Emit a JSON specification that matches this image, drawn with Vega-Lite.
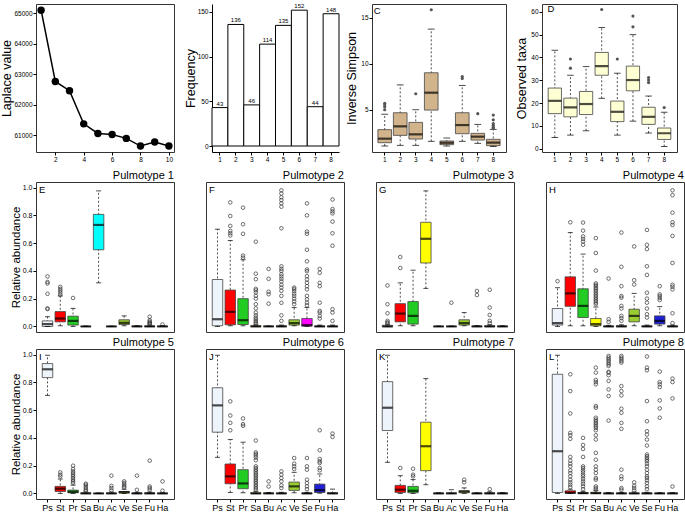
{
"$schema": "https://vega.github.io/schema/vega-lite/v6.json",
"padding": {"left": 0, "top": 3, "right": 0, "bottom": 0},
"background": "white",
"config": {
 "font": "Liberation Sans",
 "view": {"stroke": "#333", "strokeWidth": 1},
 "axis": {"labelFontSize": 6.5, "titleFontSize": 12.5, "titleFontWeight": "normal", "tickSize": 3, "labelPadding": 1, "titlePadding": 2, "domain": false, "grid": false, "labelOverlap": false, "labelColor": "black", "titleColor": "black", "tickColor": "black", "domainColor": "black", "labelFont": "Liberation Sans", "titleFont": "Liberation Sans"},
 "header": {"labelAnchor": "end", "labelFontSize": 11, "labelPadding": 1, "labelColor": "black", "labelFont": "Liberation Sans", "titleFontSize": 1},
 "text": {"font": "Liberation Sans", "color": "black"}
},
"datasets": {
 "lap": [{"k":1,"v":65097},{"k":2,"v":62768},{"k":3,"v":62465},{"k":4,"v":61381},{"k":5,"v":61067},{"k":6,"v":61035},{"k":7,"v":60905},{"k":8,"v":60655},{"k":9,"v":60785},{"k":10,"v":60655}],
 "freq": [{"k":"1","n":43},{"k":"2","n":136},{"k":"3","n":46},{"k":"4","n":114},{"k":"5","n":135},{"k":"6","n":152},{"k":"7","n":44},{"k":"8","n":148}],
 "cbox": [
  {"k":"1","lo":1.05,"q1":1.41,"md":1.85,"q3":2.83,"hi":4.5,"o":[5.7,5.5,5.3,5.0]},
  {"k":"2","lo":1.12,"q1":2.21,"md":3.19,"q3":4.67,"hi":7.7,"o":[]},
  {"k":"3","lo":1.12,"q1":1.81,"md":2.32,"q3":3.62,"hi":5.0,"o":[6.74]},
  {"k":"4","lo":1.56,"q1":4.96,"md":6.85,"q3":9.02,"hi":13.77,"o":[15.87]},
  {"k":"5","lo":1.05,"q1":1.2,"md":1.4,"q3":1.6,"hi":1.92,"o":[]},
  {"k":"6","lo":1.56,"q1":2.39,"md":3.33,"q3":4.67,"hi":7.64,"o":[8.6,8.4]},
  {"k":"7","lo":1.34,"q1":1.7,"md":2.07,"q3":2.43,"hi":3.4,"o":[4.57]},
  {"k":"8","lo":1.0,"q1":1.09,"md":1.41,"q3":1.78,"hi":2.86,"o":[4.42,3.9,3.5,3.3,3.1,2.95]}
 ],
 "dbox": [
  {"k":"1","lo":5,"q1":15.4,"md":21,"q3":26.6,"hi":43.2,"o":[]},
  {"k":"2","lo":6,"q1":14,"md":18.1,"q3":22.2,"hi":32.2,"o":[39.3,35.3]},
  {"k":"3","lo":7.9,"q1":15,"md":19.6,"q3":25.1,"hi":36,"o":[]},
  {"k":"4","lo":22.1,"q1":32.2,"md":36.2,"q3":42.2,"hi":53.1,"o":[61]},
  {"k":"5","lo":6,"q1":11.9,"md":16.2,"q3":20.9,"hi":33.1,"o":[39.3]},
  {"k":"6","lo":12.1,"q1":25.4,"md":30.1,"q3":36.2,"hi":50,"o":[58.1,53.4]},
  {"k":"7","lo":6.9,"q1":10.7,"md":14,"q3":18.2,"hi":23.1,"o":[31.2,30.1,29]},
  {"k":"8","lo":1,"q1":4.1,"md":6.8,"q3":9.1,"hi":16,"o":[18.1]}
 ],
 "pm": [
  {"p":"Pulmotype 1","L":"E","c":"Ps","lo":0,"q1":0,"md":0.017,"q3":0.04,"hi":0.07,"o":[0.36,0.32,0.31,0.235,0.13,0.125]},
  {"p":"Pulmotype 1","L":"E","c":"St","lo":0.005,"q1":0.033,"md":0.057,"q3":0.107,"hi":0.22,"o":[0.285,0.27,0.257,0.243,0.228]},
  {"p":"Pulmotype 1","L":"E","c":"Pr","lo":0,"q1":0.01,"md":0.04,"q3":0.074,"hi":0.13,"o":[0.205]},
  {"p":"Pulmotype 1","L":"E","c":"Sa","lo":0,"q1":0,"md":0,"q3":0,"hi":0.003,"o":[]},
  {"p":"Pulmotype 1","L":"E","c":"Bu","lo":0.314,"q1":0.552,"md":0.731,"q3":0.807,"hi":0.976,"o":[]},
  {"p":"Pulmotype 1","L":"E","c":"Ac","lo":0,"q1":0,"md":0,"q3":0,"hi":0.002,"o":[]},
  {"p":"Pulmotype 1","L":"E","c":"Ve","lo":0.005,"q1":0.014,"md":0.026,"q3":0.048,"hi":0.076,"o":[]},
  {"p":"Pulmotype 1","L":"E","c":"Se","lo":0,"q1":0,"md":0,"q3":0.002,"hi":0.005,"o":[]},
  {"p":"Pulmotype 1","L":"E","c":"Fu","lo":0,"q1":0,"md":0,"q3":0.003,"hi":0.01,"o":[0.07,0.045,0.035,0.028,0.022,0.017]},
  {"p":"Pulmotype 1","L":"E","c":"Ha","lo":0,"q1":0,"md":0,"q3":0.002,"hi":0.006,"o":[0.014]},

  {"p":"Pulmotype 2","L":"F","c":"Ps","lo":0,"q1":0.005,"md":0.052,"q3":0.338,"hi":0.70,"o":[]},
  {"p":"Pulmotype 2","L":"F","c":"St","lo":0.005,"q1":0.012,"md":0.105,"q3":0.262,"hi":0.619,"o":[0.893,0.795,0.724,0.688,0.671,0.655]},
  {"p":"Pulmotype 2","L":"F","c":"Pr","lo":0.005,"q1":0.014,"md":0.045,"q3":0.2,"hi":0.48,"o":[0.855,0.736,0.667,0.51,0.495]},
  {"p":"Pulmotype 2","L":"F","c":"Sa","lo":0,"q1":0,"md":0,"q3":0.005,"hi":0.012,"o":[0.61,0.38,0.34,0.27,0.26,0.245,0.22,0.2,0.16,0.13,0.1,0.08,0.064,0.052,0.04,0.03,0.02]},
  {"p":"Pulmotype 2","L":"F","c":"Bu","lo":0,"q1":0,"md":0,"q3":0,"hi":0.003,"o":[0.414,0.343,0.25,0.232,0.164]},
  {"p":"Pulmotype 2","L":"F","c":"Ac","lo":0,"q1":0,"md":0,"q3":0.004,"hi":0.01,"o":[0.98,0.957,0.93,0.91,0.886,0.862,0.707,0.433,0.415,0.4,0.376,0.36,0.343,0.324,0.3,0.28,0.257,0.22,0.17,0.08,0.04]},
  {"p":"Pulmotype 2","L":"F","c":"Ve","lo":0.005,"q1":0.01,"md":0.024,"q3":0.048,"hi":0.136,"o":[0.28,0.27,0.255,0.236,0.22,0.2,0.18,0.16]},
  {"p":"Pulmotype 2","L":"F","c":"Se","lo":0,"q1":0.002,"md":0.01,"q3":0.057,"hi":0.136,"o":[0.886,0.8,0.683,0.667,0.552,0.469,0.41,0.398,0.362,0.338,0.314,0.29,0.267,0.22,0.195,0.171,0.152]},
  {"p":"Pulmotype 2","L":"F","c":"Fu","lo":0,"q1":0,"md":0,"q3":0.003,"hi":0.01,"o":[0.414,0.386,0.314,0.29,0.171,0.112,0.1,0.076,0.057]},
  {"p":"Pulmotype 2","L":"F","c":"Ha","lo":0,"q1":0,"md":0,"q3":0.003,"hi":0.01,"o":[0.914,0.845,0.829,0.814,0.755,0.671,0.581,0.124,0.1,0.04]},

  {"p":"Pulmotype 3","L":"G","c":"Ps","lo":0,"q1":0,"md":0,"q3":0.008,"hi":0.015,"o":[0.295,0.16,0.095,0.04,0.03,0.022]},
  {"p":"Pulmotype 3","L":"G","c":"St","lo":0.005,"q1":0.033,"md":0.093,"q3":0.164,"hi":0.314,"o":[0.5,0.421]},
  {"p":"Pulmotype 3","L":"G","c":"Pr","lo":0.005,"q1":0.017,"md":0.076,"q3":0.179,"hi":0.405,"o":[]},
  {"p":"Pulmotype 3","L":"G","c":"Sa","lo":0.274,"q1":0.457,"md":0.631,"q3":0.75,"hi":0.976,"o":[]},
  {"p":"Pulmotype 3","L":"G","c":"Bu","lo":0,"q1":0,"md":0,"q3":0,"hi":0.003,"o":[]},
  {"p":"Pulmotype 3","L":"G","c":"Ac","lo":0,"q1":0,"md":0,"q3":0,"hi":0.003,"o":[0.171]},
  {"p":"Pulmotype 3","L":"G","c":"Ve","lo":0.005,"q1":0.01,"md":0.024,"q3":0.048,"hi":0.1,"o":[]},
  {"p":"Pulmotype 3","L":"G","c":"Se","lo":0,"q1":0,"md":0,"q3":0.002,"hi":0.006,"o":[0.255,0.226]},
  {"p":"Pulmotype 3","L":"G","c":"Fu","lo":0,"q1":0,"md":0,"q3":0.004,"hi":0.012,"o":[0.264,0.136,0.083,0.04,0.024]},
  {"p":"Pulmotype 3","L":"G","c":"Ha","lo":0,"q1":0,"md":0,"q3":0.002,"hi":0.004,"o":[]},

  {"p":"Pulmotype 4","L":"H","c":"Ps","lo":0,"q1":0.01,"md":0.024,"q3":0.129,"hi":0.279,"o":[0.326]},
  {"p":"Pulmotype 4","L":"H","c":"St","lo":0.005,"q1":0.145,"md":0.238,"q3":0.357,"hi":0.676,"o":[0.75]},
  {"p":"Pulmotype 4","L":"H","c":"Pr","lo":0.005,"q1":0.064,"md":0.148,"q3":0.271,"hi":0.521,"o":[0.748,0.69,0.648,0.63,0.612,0.588]},
  {"p":"Pulmotype 4","L":"H","c":"Sa","lo":0,"q1":0.005,"md":0.017,"q3":0.057,"hi":0.14,"o":[0.636,0.529,0.402,0.31,0.3,0.29,0.278,0.267,0.255,0.243,0.231,0.219,0.207,0.195,0.183,0.171,0.16]},
  {"p":"Pulmotype 4","L":"H","c":"Bu","lo":0,"q1":0,"md":0,"q3":0.002,"hi":0.008,"o":[0.345,0.052,0.033]},
  {"p":"Pulmotype 4","L":"H","c":"Ac","lo":0,"q1":0,"md":0,"q3":0.004,"hi":0.012,"o":[0.676,0.429,0.29,0.219,0.207,0.148,0.129,0.076,0.06,0.04]},
  {"p":"Pulmotype 4","L":"H","c":"Ve","lo":0.005,"q1":0.033,"md":0.076,"q3":0.124,"hi":0.238,"o":[0.576,0.333,0.302]},
  {"p":"Pulmotype 4","L":"H","c":"Se","lo":0,"q1":0,"md":0,"q3":0.003,"hi":0.01,"o":[0.695,0.588,0.557,0.433,0.371,0.243,0.2,0.171,0.129,0.088,0.064]},
  {"p":"Pulmotype 4","L":"H","c":"Fu","lo":0.005,"q1":0.017,"md":0.04,"q3":0.076,"hi":0.143,"o":[0.29,0.231,0.219,0.205,0.19]},
  {"p":"Pulmotype 4","L":"H","c":"Ha","lo":0,"q1":0,"md":0,"q3":0.003,"hi":0.01,"o":[0.98,0.945,0.819,0.75,0.731,0.652,0.457,0.3,0.286,0.267,0.095,0.024]},

  {"p":"Pulmotype 5","L":"I","c":"Ps","lo":0.706,"q1":0.834,"md":0.894,"q3":0.935,"hi":0.995,"o":[]},
  {"p":"Pulmotype 5","L":"I","c":"St","lo":0,"q1":0.014,"md":0.034,"q3":0.051,"hi":0.104,"o":[0.152,0.135,0.123]},
  {"p":"Pulmotype 5","L":"I","c":"Pr","lo":0,"q1":0.005,"md":0.012,"q3":0.024,"hi":0.06,"o":[0.2,0.176,0.159,0.147,0.135,0.123,0.111,0.099,0.087,0.075]},
  {"p":"Pulmotype 5","L":"I","c":"Sa","lo":0,"q1":0,"md":0,"q3":0.004,"hi":0.01,"o":[0.07,0.063,0.051,0.039,0.027,0.018]},
  {"p":"Pulmotype 5","L":"I","c":"Bu","lo":0,"q1":0,"md":0,"q3":0,"hi":0.003,"o":[]},
  {"p":"Pulmotype 5","L":"I","c":"Ac","lo":0,"q1":0,"md":0,"q3":0.003,"hi":0.01,"o":[0.128,0.055,0.039,0.022]},
  {"p":"Pulmotype 5","L":"I","c":"Ve","lo":0,"q1":0.002,"md":0.01,"q3":0.014,"hi":0.03,"o":[0.087,0.075,0.063,0.051,0.043]},
  {"p":"Pulmotype 5","L":"I","c":"Se","lo":0,"q1":0,"md":0,"q3":0.003,"hi":0.008,"o":[0.128,0.026]},
  {"p":"Pulmotype 5","L":"I","c":"Fu","lo":0,"q1":0,"md":0,"q3":0.004,"hi":0.01,"o":[0.236,0.05,0.039,0.027]},
  {"p":"Pulmotype 5","L":"I","c":"Ha","lo":0,"q1":0,"md":0,"q3":0.002,"hi":0.005,"o":[0.087,0.02]},

  {"p":"Pulmotype 6","L":"J","c":"Ps","lo":0.26,"q1":0.441,"md":0.634,"q3":0.761,"hi":0.995,"o":[]},
  {"p":"Pulmotype 6","L":"J","c":"St","lo":0.007,"q1":0.07,"md":0.123,"q3":0.212,"hi":0.388,"o":[0.663,0.561,0.508,0.455]},
  {"p":"Pulmotype 6","L":"J","c":"Pr","lo":0.005,"q1":0.034,"md":0.072,"q3":0.171,"hi":0.369,"o":[0.54,0.499,0.487]},
  {"p":"Pulmotype 6","L":"J","c":"Sa","lo":0,"q1":0,"md":0,"q3":0.005,"hi":0.015,"o":[0.381,0.296,0.284,0.272,0.258,0.239,0.195,0.183,0.171,0.159,0.147,0.135,0.123,0.111,0.099,0.087,0.075,0.063,0.051,0.039,0.027]},
  {"p":"Pulmotype 6","L":"J","c":"Bu","lo":0,"q1":0,"md":0,"q3":0.002,"hi":0.006,"o":[0.087,0.05]},
  {"p":"Pulmotype 6","L":"J","c":"Ac","lo":0,"q1":0,"md":0,"q3":0.003,"hi":0.008,"o":[0.159,0.135,0.111,0.087,0.058,0.039]},
  {"p":"Pulmotype 6","L":"J","c":"Ve","lo":0.005,"q1":0.022,"md":0.051,"q3":0.082,"hi":0.152,"o":[0.255,0.214,0.195,0.176]},
  {"p":"Pulmotype 6","L":"J","c":"Se","lo":0,"q1":0,"md":0,"q3":0.003,"hi":0.008,"o":[0.255,0.195,0.171,0.099,0.075,0.051,0.031]},
  {"p":"Pulmotype 6","L":"J","c":"Fu","lo":0.002,"q1":0.007,"md":0.024,"q3":0.067,"hi":0.14,"o":[0.455,0.311,0.248,0.231,0.219,0.183,0.166]},
  {"p":"Pulmotype 6","L":"J","c":"Ha","lo":0,"q1":0,"md":0,"q3":0.005,"hi":0.031,"o":[0.431,0.407]},

  {"p":"Pulmotype 7","L":"K","c":"Ps","lo":0.224,"q1":0.453,"md":0.617,"q3":0.805,"hi":0.995,"o":[]},
  {"p":"Pulmotype 7","L":"K","c":"St","lo":0,"q1":0.007,"md":0.027,"q3":0.058,"hi":0.128,"o":[0.183]},
  {"p":"Pulmotype 7","L":"K","c":"Pr","lo":0,"q1":0.005,"md":0.019,"q3":0.051,"hi":0.1,"o":[0.178,0.135,0.123]},
  {"p":"Pulmotype 7","L":"K","c":"Sa","lo":0.063,"q1":0.164,"md":0.34,"q3":0.513,"hi":0.827,"o":[]},
  {"p":"Pulmotype 7","L":"K","c":"Bu","lo":0,"q1":0,"md":0,"q3":0.002,"hi":0.004,"o":[]},
  {"p":"Pulmotype 7","L":"K","c":"Ac","lo":0,"q1":0,"md":0,"q3":0.004,"hi":0.027,"o":[]},
  {"p":"Pulmotype 7","L":"K","c":"Ve","lo":0,"q1":0.005,"md":0.014,"q3":0.019,"hi":0.04,"o":[0.099,0.08]},
  {"p":"Pulmotype 7","L":"K","c":"Se","lo":0,"q1":0,"md":0,"q3":0.002,"hi":0.004,"o":[]},
  {"p":"Pulmotype 7","L":"K","c":"Fu","lo":0,"q1":0,"md":0,"q3":0.004,"hi":0.012,"o":[0.031]},
  {"p":"Pulmotype 7","L":"K","c":"Ha","lo":0,"q1":0,"md":0,"q3":0.003,"hi":0.006,"o":[]},

  {"p":"Pulmotype 8","L":"L","c":"Ps","lo":0,"q1":0.007,"md":0.304,"q3":0.858,"hi":0.995,"o":[]},
  {"p":"Pulmotype 8","L":"L","c":"St","lo":0,"q1":0.002,"md":0.005,"q3":0.019,"hi":0.03,"o":[0.858,0.737,0.576,0.436,0.419,0.393,0.263,0.236,0.214,0.195,0.166,0.147,0.123,0.099,0.08,0.063,0.046]},
  {"p":"Pulmotype 8","L":"L","c":"Pr","lo":0,"q1":0,"md":0.002,"q3":0.006,"hi":0.015,"o":[0.4,0.349,0.32,0.263,0.195,0.183,0.166,0.152,0.135,0.123,0.104,0.087,0.07,0.051,0.031]},
  {"p":"Pulmotype 8","L":"L","c":"Sa","lo":0,"q1":0,"md":0.002,"q3":0.008,"hi":0.02,"o":[0.906,0.87,0.817,0.802,0.786,0.629,0.617,0.545,0.532,0.52,0.508,0.496,0.484,0.472,0.455,0.419,0.388,0.292,0.243,0.195,0.171,0.147,0.111,0.099,0.051,0.039,0.027]},
  {"p":"Pulmotype 8","L":"L","c":"Bu","lo":0,"q1":0,"md":0,"q3":0.002,"hi":0.006,"o":[0.99,0.978,0.966,0.954,0.942,0.93,0.918,0.875,0.87,0.851,0.81,0.749,0.701,0.525]},
  {"p":"Pulmotype 8","L":"L","c":"Ac","lo":0,"q1":0,"md":0,"q3":0.003,"hi":0.008,"o":[0.99,0.978,0.966,0.954,0.942,0.773,0.737,0.706,0.61,0.581,0.508,0.465,0.171,0.123,0.104,0.039,0.027]},
  {"p":"Pulmotype 8","L":"L","c":"Ve","lo":0,"q1":0,"md":0,"q3":0.003,"hi":0.01,"o":[0.08,0.055,0.039,0.022]},
  {"p":"Pulmotype 8","L":"L","c":"Se","lo":0,"q1":0,"md":0,"q3":0.003,"hi":0.008,"o":[0.986,0.906,0.887,0.665,0.52,0.448,0.424,0.388,0.345,0.28,0.268,0.256,0.244,0.232,0.214,0.195,0.171,0.147,0.123,0.111,0.094,0.075,0.051,0.031]},
  {"p":"Pulmotype 8","L":"L","c":"Fu","lo":0,"q1":0,"md":0,"q3":0.002,"hi":0.005,"o":[0.877,0.802,0.786,0.766,0.67,0.612,0.545]},
  {"p":"Pulmotype 8","L":"L","c":"Ha","lo":0,"q1":0,"md":0,"q3":0.002,"hi":0.006,"o":[0.827,0.802,0.684,0.05]}
 ]
},
"spacing": 6,
"vconcat": [
 {
  "bounds": "flush",
  "spacing": 38,
  "hconcat": [
   {
    "width": 138, "height": 148,
    "data": {"name": "lap"},
    "encoding": {
     "x": {"field": "k", "type": "quantitative", "scale": {"domain": [0.64, 10.36], "nice": false, "zero": false}, "axis": {"values": [2,4,6,8,10], "format": "d", "title": null}},
     "y": {"field": "v", "type": "quantitative", "scale": {"domain": [60460, 65300], "nice": false, "zero": false}, "axis": {"values": [61000,62000,63000,64000,65000], "format": "d", "title": "Laplace value", "titlePadding": 0}}
    },
    "layer": [
     {"mark": {"type": "line", "color": "black", "strokeWidth": 1.5}},
     {"mark": {"type": "circle", "size": 55, "color": "black", "opacity": 1}},
     {"data": {"values": [{"t": "A"}]}, "mark": {"type": "text", "fontSize": 9.5}, "encoding": {"x": {"datum": 1.77}, "y": {"datum": 64945}, "text": {"field": "t"}}}
    ]
   },
   {
    "bounds": "flush",
    "spacing": 33,
    "hconcat": [
     {
      "width": 127, "height": 148,
      "data": {"name": "freq"},
      "view": {"stroke": null},
      "encoding": {
       "x": {"field": "k", "type": "nominal", "scale": {"paddingInner": 0, "paddingOuter": 0}, "axis": {"title": null, "labelAngle": 0, "domain": true}},
       "y": {"field": "n", "type": "quantitative", "scale": {"domain": [-6.7, 158.9], "nice": false, "zero": false}, "axis": {"values": [0,50,100,150], "title": "Frequency", "domain": true, "titlePadding": 0}}
      },
      "layer": [
       {"mark": {"type": "bar", "fill": "white", "stroke": "black", "strokeWidth": 1}, "encoding": {"y2": {"datum": 0}}},
       {"mark": {"type": "text", "baseline": "alphabetic", "dy": -2, "fontSize": 6}, "encoding": {"text": {"field": "n"}}},
       {"data": {"values": [{"t": "B"}]}, "mark": {"type": "text", "fontSize": 9.5, "dx": -2.5}, "encoding": {"x": {"datum": "1"}, "y": {"datum": 147.8}, "text": {"field": "t"}}}
      ]
     },
     {
      "bounds": "flush",
      "spacing": 36,
      "hconcat": [
       {
        "width": 134, "height": 148,
        "data": {"name": "cbox"},
        "encoding": {
         "x": {"field": "k", "type": "nominal", "scale": {"paddingInner": 0.12, "paddingOuter": 0.38}, "axis": {"title": null, "labelAngle": 0}}
        },
        "layer": [
         {"mark": {"type": "rule", "strokeDash": [2,2], "strokeWidth": 0.8, "color": "#222"}, "encoding": {"y": {"field": "lo", "type": "quantitative", "title": "Inverse Simpson", "scale": {"domain": [0.4, 16.5], "nice": false, "zero": false}, "axis": {"values": [5,10,15], "labelOverlap": false}}, "y2": {"field": "hi"}}},
         {"mark": {"type": "bar", "fill": "#D2B48C", "stroke": "#444", "strokeWidth": 0.8}, "encoding": {"y": {"field": "q1", "type": "quantitative", "title": "Inverse Simpson", "axis": {"values": [5,10,15], "labelOverlap": false}}, "y2": {"field": "q3"}}},
         {"mark": {"type": "tick", "color": "black", "thickness": 2.2, "size": 13.6}, "encoding": {"y": {"field": "md", "type": "quantitative", "title": "Inverse Simpson", "axis": {"values": [5,10,15], "labelOverlap": false}}}},
         {"mark": {"type": "tick", "color": "black", "thickness": 1, "size": 6.8}, "encoding": {"y": {"field": "hi", "type": "quantitative", "title": "Inverse Simpson", "axis": {"values": [5,10,15], "labelOverlap": false}}}},
         {"mark": {"type": "tick", "color": "black", "thickness": 1, "size": 6.8}, "encoding": {"y": {"field": "lo", "type": "quantitative", "title": "Inverse Simpson", "axis": {"values": [5,10,15], "labelOverlap": false}}}},
         {"transform": [{"flatten": ["o"]}], "mark": {"type": "circle", "size": 10, "color": "#555", "opacity": 1}, "encoding": {"y": {"field": "o", "type": "quantitative", "title": "Inverse Simpson", "axis": {"values": [5,10,15], "labelOverlap": false}}}},
         {"data": {"values": [{"t": "C"}]}, "mark": {"type": "text", "fontSize": 9.5, "dx": -7.5}, "encoding": {"x": {"datum": "1"}, "y": {"datum": 15.73, "axis": {"values": [5,10,15], "labelOverlap": false, "title": "Inverse Simpson"}}, "text": {"field": "t"}}}
        ]
       },
       {
        "width": 135, "height": 148,
        "data": {"name": "dbox"},
        "encoding": {
         "x": {"field": "k", "type": "nominal", "scale": {"paddingInner": 0.15, "paddingOuter": 0.395}, "axis": {"title": null, "labelAngle": 0}}
        },
        "layer": [
         {"mark": {"type": "rule", "strokeDash": [2,2], "strokeWidth": 0.8, "color": "#222"}, "encoding": {"y": {"field": "lo", "type": "quantitative", "title": "Observed taxa", "scale": {"domain": [-1.4, 63.4], "nice": false, "zero": false}, "axis": {"values": [0,10,20,30,40,50,60], "labelOverlap": false}}, "y2": {"field": "hi"}}},
         {"mark": {"type": "bar", "fill": "#FFFFD4", "stroke": "#444", "strokeWidth": 0.8}, "encoding": {"y": {"field": "q1", "type": "quantitative", "title": "Observed taxa", "axis": {"values": [0,10,20,30,40,50,60], "labelOverlap": false}}, "y2": {"field": "q3"}}},
         {"mark": {"type": "tick", "color": "black", "thickness": 2.2, "size": 13.2}, "encoding": {"y": {"field": "md", "type": "quantitative", "title": "Observed taxa", "axis": {"values": [0,10,20,30,40,50,60], "labelOverlap": false}}}},
         {"mark": {"type": "tick", "color": "black", "thickness": 1, "size": 6.6}, "encoding": {"y": {"field": "hi", "type": "quantitative", "title": "Observed taxa", "axis": {"values": [0,10,20,30,40,50,60], "labelOverlap": false}}}},
         {"mark": {"type": "tick", "color": "black", "thickness": 1, "size": 6.6}, "encoding": {"y": {"field": "lo", "type": "quantitative", "title": "Observed taxa", "axis": {"values": [0,10,20,30,40,50,60], "labelOverlap": false}}}},
         {"transform": [{"flatten": ["o"]}], "mark": {"type": "circle", "size": 10, "color": "#555", "opacity": 1}, "encoding": {"y": {"field": "o", "type": "quantitative", "title": "Observed taxa", "axis": {"values": [0,10,20,30,40,50,60], "labelOverlap": false}}}},
         {"data": {"values": [{"t": "D"}]}, "mark": {"type": "text", "fontSize": 9.5, "dx": -4}, "encoding": {"x": {"datum": "1"}, "y": {"datum": 61.0, "axis": {"values": [0,10,20,30,40,50,60], "labelOverlap": false, "title": "Observed taxa"}}, "text": {"field": "t"}}}
        ]
       }
      ]
     }
    ]
   }
  ]
 },
 {
  "data": {"name": "pm"},
  "facet": {"field": "p", "type": "nominal", "header": {"title": null, "labelAnchor": "end", "labelFontSize": 11, "labelPadding": 1, "labelColor": "black"}, "sort": ["Pulmotype 1","Pulmotype 2","Pulmotype 3","Pulmotype 4","Pulmotype 5","Pulmotype 6","Pulmotype 7","Pulmotype 8"]},
  "columns": 4,
  "spacing": {"row": 17, "column": 32},
  "bounds": "flush",
  "spec": {
   "width": 138, "height": 150,
   "encoding": {
    "x": {"field": "c", "type": "nominal", "scale": {"domain": ["Ps","St","Pr","Sa","Bu","Ac","Ve","Se","Fu","Ha"], "paddingInner": 0.18, "paddingOuter": 0.49}, "axis": {"title": null, "labelAngle": 0, "labelFontSize": 9, "labelPadding": 1}}
   },
   "layer": [
    {"mark": {"type": "rule", "strokeDash": [2,2], "strokeWidth": 0.8, "color": "#222"}, "encoding": {"y": {"field": "lo", "type": "quantitative", "title": "Relative abundance", "scale": {"domain": [-0.04, 1.04], "nice": false, "zero": false}, "axis": {"values": [0,0.2,0.4,0.6,0.8,1], "format": ".1f", "labelFontSize": 7, "titleFontSize": 11.5, "titlePadding": 1, "labelOverlap": false}}, "y2": {"field": "hi"}}},
    {"mark": {"type": "bar", "stroke": "#444", "strokeWidth": 0.8}, "encoding": {"y": {"field": "q1", "type": "quantitative", "title": "Relative abundance", "axis": {"values": [0,0.2,0.4,0.6,0.8,1], "format": ".1f", "labelFontSize": 7, "titleFontSize": 11.5, "titlePadding": 1, "labelOverlap": false}}, "y2": {"field": "q3"}, "fill": {"field": "c", "type": "nominal", "scale": {"domain": ["Ps","St","Pr","Sa","Bu","Ac","Ve","Se","Fu","Ha"], "range": ["#EEF4FB","#FF0000","#22CC22","#FFFF00","#00FFFF","#FFA500","#9ACD32","#FF00FF","#1F1FD6","#A0522D"]}, "legend": null}}},
    {"mark": {"type": "tick", "color": "black", "thickness": 2.2, "size": 10.5}, "encoding": {"y": {"field": "md", "type": "quantitative", "title": "Relative abundance", "axis": {"values": [0,0.2,0.4,0.6,0.8,1], "format": ".1f", "labelFontSize": 7, "titleFontSize": 11.5, "titlePadding": 1, "labelOverlap": false}}}},
    {"mark": {"type": "tick", "color": "black", "thickness": 1, "size": 5}, "encoding": {"y": {"field": "hi", "type": "quantitative", "title": "Relative abundance", "axis": {"values": [0,0.2,0.4,0.6,0.8,1], "format": ".1f", "labelFontSize": 7, "titleFontSize": 11.5, "titlePadding": 1, "labelOverlap": false}}}},
    {"mark": {"type": "tick", "color": "black", "thickness": 1, "size": 5}, "encoding": {"y": {"field": "lo", "type": "quantitative", "title": "Relative abundance", "axis": {"values": [0,0.2,0.4,0.6,0.8,1], "format": ".1f", "labelFontSize": 7, "titleFontSize": 11.5, "titlePadding": 1, "labelOverlap": false}}}},
    {"transform": [{"flatten": ["o"]}], "mark": {"type": "point", "shape": "circle", "filled": false, "size": 13, "strokeWidth": 0.7, "color": "#333", "opacity": 1}, "encoding": {"y": {"field": "o", "type": "quantitative", "title": "Relative abundance", "axis": {"values": [0,0.2,0.4,0.6,0.8,1], "format": ".1f", "labelFontSize": 7, "titleFontSize": 11.5, "titlePadding": 1, "labelOverlap": false}}}},
    {"transform": [{"filter": "datum.c == 'Ps'"}], "mark": {"type": "text", "align": "left", "baseline": "top", "dx": -8.5, "dy": 3, "fontSize": 9.5}, "encoding": {"y": {"datum": 1.04, "axis": {"values": [0,0.2,0.4,0.6,0.8,1], "format": ".1f", "labelFontSize": 7, "titleFontSize": 11.5, "titlePadding": 1, "labelOverlap": false, "title": "Relative abundance"}}, "text": {"field": "L"}}}
   ]
  }
 }
]
}
